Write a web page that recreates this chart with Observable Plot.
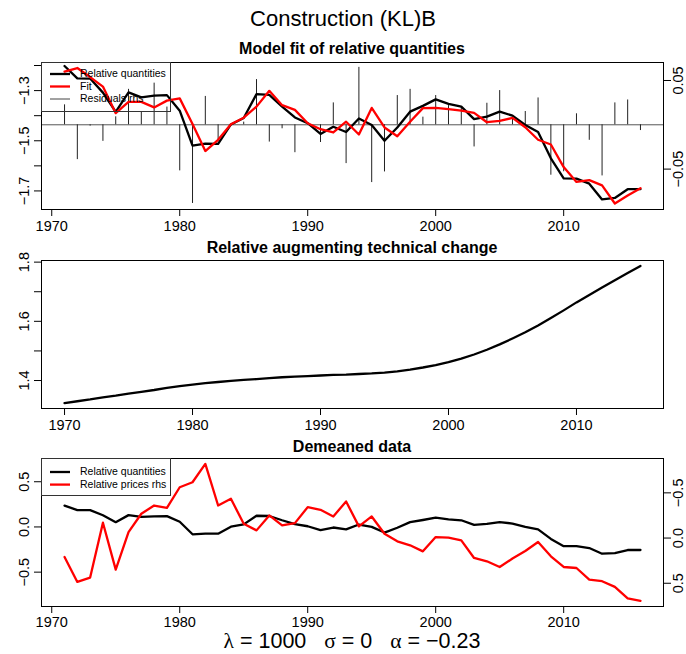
<!DOCTYPE html>
<html>
<head>
<meta charset="utf-8">
<script src="https://cdn.jsdelivr.net/npm/d3@7"></script>
<script src="https://cdn.jsdelivr.net/npm/@observablehq/plot@0.6"></script>
<style>
  body { margin: 0; background: #fff; }
  #chart { position: relative; width: 686px; height: 654px; background: #fff;
           font-family: "Liberation Sans", Arial, sans-serif; color: #000; overflow: hidden; }
  #chart svg { position: absolute; left: 0; overflow: visible; background: transparent; }
  .ttl { position: absolute; text-align: center; white-space: pre; line-height: 1; }
  .legend { position: absolute; border: 1px solid #333; box-sizing: border-box; }
  .legend span { position: absolute; font-size: 10.5px; line-height: 1; white-space: pre; }
  .legend svg { position: absolute; left: 0; top: 0; }
  .greek { font-family: "Liberation Serif", "DejaVu Serif", serif; }
</style>
</head>
<body>
<div id="chart"></div>
<script>
// ---- Data -------------------------------------------------------------
const years = [1971,1972,1973,1974,1975,1976,1977,1978,1979,1980,1981,1982,1983,1984,1985,1986,
  1987,1988,1989,1990,1991,1992,1993,1994,1995,1996,1997,1998,1999,2000,2001,2002,2003,2004,2005,
  2006,2007,2008,2009,2010,2011,2012,2013,2014,2015,2016];

// Relative quantities (log), observed
const relQuantities = [-1.202,-1.251,-1.252,-1.308,-1.385,-1.307,-1.327,-1.320,-1.318,-1.380,-1.519,
  -1.511,-1.512,-1.435,-1.409,-1.314,-1.317,-1.364,-1.407,-1.430,-1.473,-1.444,-1.465,-1.411,-1.437,
  -1.500,-1.447,-1.384,-1.361,-1.335,-1.353,-1.364,-1.414,-1.404,-1.384,-1.400,-1.437,-1.465,-1.570,
  -1.650,-1.651,-1.671,-1.734,-1.728,-1.693,-1.693];

// Model fit
const fitted = [-1.224,-1.210,-1.246,-1.284,-1.390,-1.345,-1.345,-1.367,-1.340,-1.331,-1.433,
  -1.541,-1.496,-1.434,-1.408,-1.364,-1.301,-1.358,-1.377,-1.430,-1.454,-1.467,-1.424,-1.475,-1.369,
  -1.447,-1.482,-1.424,-1.370,-1.369,-1.374,-1.380,-1.389,-1.426,-1.421,-1.409,-1.446,-1.496,-1.515,
  -1.605,-1.664,-1.657,-1.678,-1.750,-1.718,-1.689];

// Residuals (right-hand scale)
const residuals = [0.0225,-0.0393,-0.0015,-0.0187,0.009,0.040,0.015,0.047,0.020,-0.052,-0.0888,
  0.032,-0.0187,-0.001,0.003,0.051,-0.0195,-0.0045,-0.0315,0.001,-0.020,0.0247,-0.0438,0.0648,-0.0652,
  -0.0532,0.033,0.040,0.0086,0.033,0.0217,0.0199,-0.025,0.0243,0.0386,0.0086,0.015,0.0303,-0.0569,
  -0.053,0.0124,-0.0175,-0.0577,0.0247,0.028,-0.0065];

// Relative prices, demeaned (right-hand, reversed scale)
const relPrices = [0.209,0.485,0.437,-0.170,0.349,-0.066,-0.269,-0.360,-0.335,-0.562,-0.617,-0.820,
  -0.360,-0.434,-0.159,-0.085,-0.250,-0.140,-0.165,-0.342,-0.313,-0.239,-0.405,-0.129,-0.239,-0.048,
  0.036,0.080,0.147,-0.011,-0.004,0.025,0.220,0.257,0.320,0.227,0.143,0.044,0.202,0.320,0.331,0.459,
  0.477,0.540,0.668,0.695];

// Relative augmenting technical change
const techYears = [1970,1971,1972,1973,1974,1975,1976,1977,1978,1979,1980,1981,1982,1983,1984,1985,
  1986,1987,1988,1989,1990,1991,1992,1993,1994,1995,1996,1997,1998,1999,2000,2001,2002,2003,2004,
  2005,2006,2007,2008,2009,2010,2011,2012,2013,2014,2015];
const techChange = [1.324,1.330,1.336,1.343,1.349,1.356,1.362,1.368,1.375,1.381,1.386,1.391,1.395,
  1.399,1.402,1.405,1.408,1.411,1.413,1.415,1.417,1.419,1.420,1.422,1.424,1.427,1.431,1.437,1.444,
  1.452,1.462,1.474,1.488,1.504,1.522,1.542,1.563,1.586,1.611,1.637,1.664,1.689,1.714,1.739,1.763,
  1.787];

// Tick values
const yearTicks = [1970, 1980, 1990, 2000, 2010];
const fitTicks = [-1.7, -1.6, -1.5, -1.4, -1.3, -1.2];
const fitLabels = [-1.7, -1.5, -1.3];
const residTicks = [-0.05, 0.05];
const techTicks = [1.4, 1.5, 1.6, 1.7, 1.8];
const techLabels = [1.4, 1.6, 1.8];
const demeanTicks = [-0.5, 0, 0.5];

// ---- Tables -----------------------------------------------------------
const meanQ = d3.mean(relQuantities);
const fitTable = years.map((year, i) => ({year, q: relQuantities[i], fit: fitted[i], resid: residuals[i]}));
const techTable = techYears.map((year, i) => ({year, value: techChange[i]}));
const demeanTable = years.map((year, i) => ({year, q: relQuantities[i] - meanQ, p: relPrices[i]}));

// ---- Helpers ----------------------------------------------------------
const minus = s => s.replace("-", "\u2212");
const fmt = digits => d => minus(d.toFixed(digits));
const font = {fontFamily: "'Liberation Sans', Arial, sans-serif", fontSize: "14.5px", background: "transparent", overflow: "visible", color: "#000"};
const base = {width: 686, marginLeft: 41, marginRight: 23, style: font};
const xRange1 = [1969.2, 2017.8];
const xRange2 = [1968.2, 2016.8];
const chart = document.getElementById("chart");

function place(svg, top) {
  svg.style.top = top + "px";
  chart.appendChild(svg);
}
function axisX(padding = 4) {
  return Plot.axisX({ticks: yearTicks, tickFormat: "d", tickSize: 7, tickPadding: padding, label: null, fontSize: 14.5});
}
function axisLeft(ticks, labels, digits) {
  return Plot.axisY({anchor: "left", ticks, tickFormat: d => labels.includes(d) ? fmt(digits)(d) : "",
    tickSize: 7, tickPadding: 6, tickRotate: -90, textAnchor: "middle", lineAnchor: "bottom", label: null, fontSize: 14.5});
}
function axisRight(ticks, digits) {
  return Plot.axisY({anchor: "right", ticks, tickFormat: fmt(digits),
    tickSize: 7, tickPadding: 2, tickRotate: -90, textAnchor: "middle", lineAnchor: "top", label: null, fontSize: 14.5});
}
function title(text, top, size, bold, left = 41, width = 622, lineHeight = 1) {
  const el = document.createElement("div");
  el.className = "ttl";
  el.style.cssText = `top:${top}px;left:${left}px;width:${width}px;font-size:${size}px;line-height:${lineHeight};font-weight:${bold ? "bold" : "normal"};`;
  el.innerHTML = text;
  chart.appendChild(el);
}
function legend(box, items) {
  const el = document.createElement("div");
  el.className = "legend";
  el.style.cssText = `left:${box.left}px;top:${box.top}px;width:${box.width}px;height:${box.height}px;`;
  const svg = d3.create("svg").attr("width", box.width).attr("height", box.height);
  items.forEach((it, i) => {
    const y = box.first + i * box.step;
    svg.append("line").attr("x1", 8).attr("x2", 28).attr("y1", y).attr("y2", y)
      .attr("stroke", it.color).attr("stroke-width", it.width);
    const s = document.createElement("span");
    s.textContent = it.label;
    s.style.left = "38px";
    s.style.top = (y - 5.6) + "px";
    el.appendChild(s);
  });
  el.appendChild(svg.node());
  chart.appendChild(el);
}

// ---- Titles -----------------------------------------------------------
title("Construction (KL)B", 7.5, 22, false, 0, 686);
title("Model fit of relative quantities", 40.5, 16, true);
title("Relative augmenting technical change", 240, 16, true);
title("Demeaned data", 439, 16, true);

// ---- Panel 1: model fit with residuals -------------------------------
place(Plot.plot({
  ...base, height: 201, marginTop: 24, marginBottom: 30,
  x: {domain: xRange1, axis: null},
  y: {domain: [-0.0956, 0.0703], axis: null},
  marks: [
    Plot.ruleY([0], {stroke: "#555", strokeWidth: 1}),
    Plot.ruleX(fitTable, {x: "year", y1: 0, y2: "resid", stroke: "#222", strokeWidth: 1}),
    axisRight(residTicks, 2)
  ]
}), 38);

place(Plot.plot({
  ...base, height: 201, marginTop: 24, marginBottom: 30,
  x: {domain: xRange1},
  y: {domain: [-1.774, -1.188]},
  marks: [
    Plot.frame({stroke: "#000"}),
    axisX(),
    axisLeft(fitTicks, fitLabels, 1),
    Plot.line(fitTable, {x: "year", y: "q", stroke: "#000", strokeWidth: 2.3}),
    Plot.line(fitTable, {x: "year", y: "fit", stroke: "#ff0000", strokeWidth: 2.3})
  ]
}), 38);

legend({left: 41, top: 62, width: 130, height: 50, first: 11, step: 12.5}, [
  {label: "Relative quantities", color: "#000", width: 2.3},
  {label: "Fit", color: "#ff0000", width: 2.3},
  {label: "Residuals rhs", color: "#444", width: 1}
]);

// ---- Panel 2: technical change ---------------------------------------
place(Plot.plot({
  ...base, height: 198, marginTop: 20, marginBottom: 30,
  x: {domain: xRange2},
  y: {domain: [1.3055, 1.8055]},
  marks: [
    Plot.frame({stroke: "#000"}),
    axisX(),
    axisLeft(techTicks, techLabels, 1),
    Plot.line(techTable, {x: "year", y: "value", stroke: "#000", strokeWidth: 2.3})
  ]
}), 240);

// ---- Panel 3: demeaned data ------------------------------------------
const demeanDomain = [-0.88, 0.757];
place(Plot.plot({
  ...base, height: 198, marginTop: 20, marginBottom: 30,
  x: {domain: xRange1},
  y: {domain: demeanDomain},
  marks: [
    Plot.frame({stroke: "#000"}),
    axisX(3),
    axisLeft(demeanTicks, demeanTicks, 1),
    Plot.line(demeanTable, {x: "year", y: "q", stroke: "#000", strokeWidth: 2.3})
  ]
}), 438);

place(Plot.plot({
  ...base, height: 198, marginTop: 20, marginBottom: 30,
  x: {domain: xRange1, axis: null},
  y: {domain: demeanDomain, reverse: true, axis: null},
  marks: [
    axisRight(demeanTicks, 1),
    Plot.line(demeanTable, {x: "year", y: "p", stroke: "#ff0000", strokeWidth: 2.3})
  ]
}), 438);

legend({left: 41, top: 458, width: 130, height: 38, first: 13, step: 12.6}, [
  {label: "Relative quantities", color: "#000", width: 2.3},
  {label: "Relative prices rhs", color: "#ff0000", width: 2.3}
]);

// ---- Parameters -------------------------------------------------------
title('<span class="greek">\u03bb</span> = 1000   <span class="greek">\u03c3</span> = 0   <span class="greek">\u03b1</span> = \u22120.23', 633, 21.5, false, 41, 622, 0.8);
</script>
</body>
</html>
